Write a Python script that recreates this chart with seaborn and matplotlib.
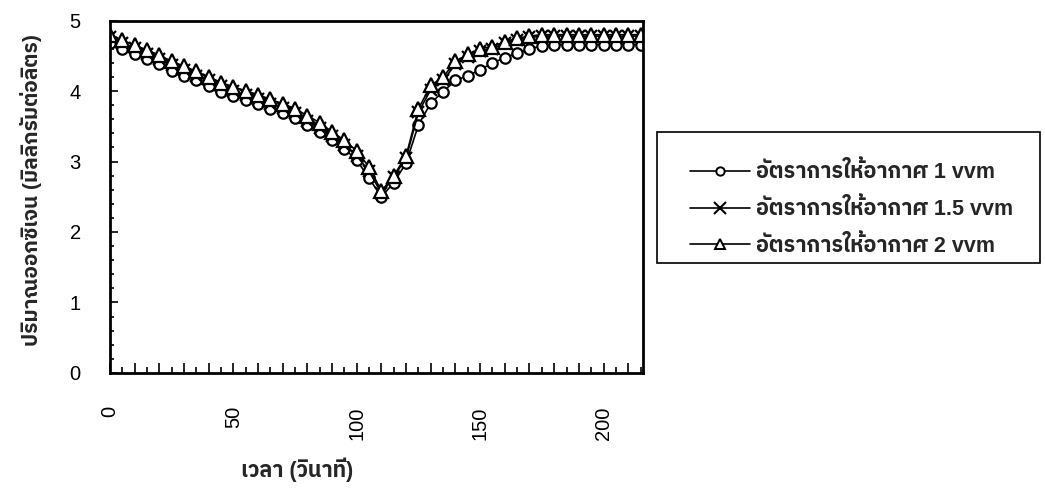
import matplotlib
matplotlib.use("Agg")
import matplotlib.pyplot as plt
import pandas as pd
import seaborn as sns
from matplotlib import font_manager, ft2font
from matplotlib.patches import Rectangle
from matplotlib.ticker import MultipleLocator, FuncFormatter

# Sampling times (s) and dissolved-oxygen readings (mg/L) for three aeration rates
time_s = list(range(0, 220, 5))

do_1vvm = [4.68, 4.59, 4.52, 4.45, 4.38, 4.29, 4.22, 4.15, 4.07, 3.99,
           3.93, 3.87, 3.81, 3.75, 3.69, 3.62, 3.52, 3.42, 3.30, 3.18,
           3.02, 2.76, 2.50, 2.70, 2.98, 3.52, 3.83, 3.99, 4.15, 4.22,
           4.30, 4.40, 4.47, 4.54, 4.60, 4.64, 4.66, 4.66, 4.66, 4.66,
           4.66, 4.66, 4.66, 4.66]
do_15vvm = [4.76, 4.68, 4.61, 4.53, 4.46, 4.37, 4.30, 4.22, 4.15, 4.07,
            4.00, 3.94, 3.89, 3.82, 3.76, 3.69, 3.58, 3.48, 3.36, 3.24,
            3.08, 2.86, 2.55, 2.78, 3.05, 3.70, 4.02, 4.15, 4.38, 4.48,
            4.57, 4.60, 4.68, 4.73, 4.76, 4.78, 4.78, 4.78, 4.78, 4.78,
            4.78, 4.78, 4.78, 4.78]
do_2vvm = [4.80, 4.72, 4.65, 4.58, 4.51, 4.42, 4.35, 4.28, 4.20, 4.12,
           4.06, 4.00, 3.95, 3.88, 3.82, 3.75, 3.65, 3.55, 3.42, 3.30,
           3.15, 2.92, 2.58, 2.80, 3.08, 3.75, 4.08, 4.20, 4.42, 4.52,
           4.60, 4.63, 4.70, 4.75, 4.78, 4.80, 4.80, 4.80, 4.80, 4.80,
           4.80, 4.80, 4.80, 4.80]

series_names = ["อัตราการให้อากาศ 1 vvm",
                "อัตราการให้อากาศ 1.5 vvm",
                "อัตราการให้อากาศ 2 vvm"]
x_label = "เวลา (วินาที)"
y_label = "ปริมาณออกซิเจน (มิลลิกรัมต่อลิตร)"
x_tick_labels = [0, 50, 100, 150, 200]
y_ticks = [0, 1, 2, 3, 4, 5]


def thai_capable_family():
    """Return the name of an installed font that covers Thai script."""
    found = []
    for entry in font_manager.fontManager.ttflist:
        try:
            cmap = ft2font.FT2Font(entry.fname).get_charmap()
        except Exception:
            continue
        if 0x0E2D in cmap and 0x0E31 in cmap and 0x0E35 in cmap:
            found.append(entry.name)
    if not found:
        return None
    found.sort(key=lambda n: (0 if "Sans" in n else 1, n))
    return found[0]


sns.set_theme(style="white")
thai = thai_capable_family()
families = ["Liberation Sans"] + ([thai] if thai else []) + ["DejaVu Sans"]
plt.rcParams["font.family"] = families

fig = plt.figure(figsize=(10.45, 4.9), dpi=100)
ax = fig.add_axes([0.1053, 0.239, 0.5100, 0.719])

# one call per series so open and line-art markers can be combined
marker_styles = [
    dict(marker="o", markersize=7.5, markerfacecolor="white", markeredgewidth=1.6),
    dict(marker="x", markersize=8.5, markeredgewidth=1.6),
    dict(marker="^", markersize=10, markerfacecolor="white", markeredgewidth=1.6),
]
for name, values, mstyle in zip(series_names, [do_1vvm, do_15vvm, do_2vvm], marker_styles):
    part = pd.DataFrame({"time": time_s, "do": values})
    sns.lineplot(data=part, x="time", y="do", color="black", linewidth=1.2,
                 markeredgecolor="black", ax=ax, **mstyle)

ax.set_xlim(0, 216)
ax.set_ylim(0, 5)
ax.set_yticks(y_ticks)
ax.xaxis.set_major_locator(MultipleLocator(10))
ax.xaxis.set_minor_locator(MultipleLocator(5))
ax.xaxis.set_major_formatter(
    FuncFormatter(lambda v, p: f"{int(round(v))}" if int(round(v)) in x_tick_labels else ""))
ax.yaxis.set_minor_locator(MultipleLocator(0.2))
ax.tick_params(axis="both", which="both", direction="in", color="black",
               labelsize=14.5, labelcolor="black", width=1.2)
ax.tick_params(axis="x", which="major", length=7, pad=24, labelrotation=90)
ax.tick_params(axis="x", which="minor", length=4)
ax.tick_params(axis="y", which="major", length=6, pad=21)
ax.tick_params(axis="y", which="minor", length=3)
ax.tick_params(bottom=True, left=True, which="both")
for side in ax.spines.values():
    side.set_color("black")
    side.set_linewidth(2)
ax.set_xlabel("")
ax.set_ylabel("")

fig.text(0.284, 0.041, x_label, ha="center", va="center", fontsize=15.5,
         fontweight="bold")
fig.text(0.030, 0.612, y_label, ha="center", va="center", rotation=90,
         fontsize=15, fontweight="bold")

# legend box
fig.patches.append(Rectangle((0.6287, 0.4633), 0.3665, 0.2673,
                             transform=fig.transFigure, facecolor="white",
                             edgecolor="black", linewidth=1.2, zorder=1))

handles = [
    plt.Line2D([], [], color="black", lw=1.2, marker="o", markersize=6,
               markerfacecolor="white", markeredgewidth=1.4),
    plt.Line2D([], [], color="black", lw=1.2, marker="x", markersize=8,
               markeredgewidth=1.5),
    plt.Line2D([], [], color="black", lw=1.2, marker="^", markersize=7,
               markerfacecolor="white", markeredgewidth=1.4),
]
leg = fig.legend(handles, series_names, loc="upper left",
                 bbox_to_anchor=(0.660, 0.670), bbox_transform=fig.transFigure,
                 borderaxespad=0, frameon=False, handlelength=2.8,
                 labelspacing=0.7, borderpad=0, handletextpad=0.3,
                 prop={"weight": "bold", "size": 15.5})
leg.set_zorder(2)

fig.savefig("out.png", dpi=100, facecolor="white")
